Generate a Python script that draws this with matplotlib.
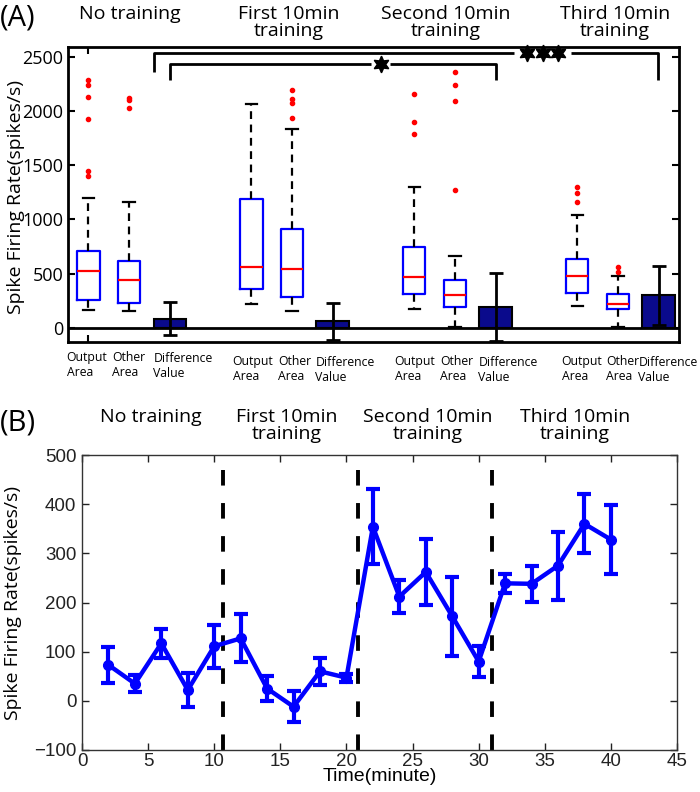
import matplotlib
matplotlib.use("Agg")
import matplotlib.pyplot as plt

W, H = 700, 792

# ---- panel A data (spikes/s) ----
box_pos_out = [1, 5, 9, 13]
box_pos_other = [2, 6, 10, 14]
bar_pos = [3, 7, 11, 15]

out_med = [523, 565, 468, 474]
out_q1 = [258, 357, 314, 326]
out_q3 = [710, 1187, 750, 637]
out_lo = [166, 219, 178, 200]
out_hi = [1195, 2066, 1298, 1045]
out_fliers = [[2288, 2242, 2128, 1925, 1451, 1402], [], [2161, 1894, 1787], [1298, 1240, 1160]]

oth_med = [440, 541, 304, 221]
oth_q1 = [233, 289, 197, 175]
oth_q3 = [618, 913, 443, 311]
oth_lo = [160, 157, 8, 8]
oth_hi = [1165, 1830, 661, 480]
oth_fliers = [[2124, 2097, 2032], [2190, 2113, 2075, 1935], [2364, 2239, 2091, 1276], [566, 517]]

diff_mean = [85, 62, 192, 300]
diff_err = [150, 172, 310, 275]

group_titles = ["No training", "First 10min\ntraining", "Second 10min\ntraining", "Third 10min\ntraining"]

# ---- panel B data ----
time_min = [2, 4, 6, 8, 10, 12, 14, 16, 18, 20, 22, 24, 26, 28, 30, 32, 34, 36, 38, 40]
rate = [73, 35, 117, 22, 111, 127, 25, -12, 60, 47, 354, 212, 262, 172, 80, 239, 238, 275, 360, 328]
rate_err = [36, 17, 30, 34, 44, 49, 26, 31, 28, 8, 76, 34, 67, 80, 32, 19, 36, 69, 60, 71]
phase_lines = [10.7, 20.9, 31.0]

OS = "Open Sans"
LS = "Liberation Sans"


def ftext(x, y, s, **kw):
    # place text by pixel position of the 700x792 canvas
    fig.text(x / W, 1 - y / H, s, **kw)


fig = plt.figure(figsize=(7, 7.92), dpi=100)

# ================= panel A =================
axA = fig.add_axes([68 / W, 1 - 342 / H, 611 / W, 295 / H])


def stats(med, q1, q3, lo, hi, fl):
    return [dict(med=m, q1=a, q3=b, whislo=l, whishi=h, fliers=f)
            for m, a, b, l, h, f in zip(med, q1, q3, lo, hi, fl)]


box_kw = dict(widths=0.55, showfliers=True,
              boxprops=dict(color="#0000ff", lw=1.6),
              medianprops=dict(color="#ff0000", lw=1.6),
              whiskerprops=dict(color="k", lw=1.6, ls=(0, (3.5, 2.5))),
              capprops=dict(color="k", lw=1.6),
              flierprops=dict(marker="o", markersize=3, markerfacecolor="#ff0000",
                              markeredgecolor="#ff0000", linestyle="none"))
axA.bxp(stats(out_med, out_q1, out_q3, out_lo, out_hi, out_fliers), positions=box_pos_out, **box_kw)
axA.bxp(stats(oth_med, oth_q1, oth_q3, oth_lo, oth_hi, oth_fliers), positions=box_pos_other, **box_kw)

axA.axhline(0, color="k", lw=2, zorder=1)
axA.bar(bar_pos, diff_mean, width=0.8, color="#0a0a8c", edgecolor="k", lw=1.5, zorder=2)
axA.errorbar(bar_pos, diff_mean, yerr=diff_err, fmt="none", ecolor="k",
             elinewidth=2, capsize=5, capthick=2, zorder=3)

# significance brackets
k = dict(color="k", lw=2, solid_capstyle="butt", clip_on=False)
axA.plot([2.62, 2.62, 11.45], [2362, 2537, 2537], **k)
axA.plot([12.85, 14.99, 14.99], [2537, 2537, 2288], **k)
axA.plot([3.0, 3.0, 7.95], [2288, 2433, 2433], **k)
axA.plot([8.4, 11.0, 11.0], [2433, 2433, 2288], **k)
axA.plot([11.78, 12.15, 12.52], [2537] * 3, ls="none", marker=(6, 1, 0), ms=12,
         color="k", clip_on=False)
axA.plot([8.18], [2433], ls="none", marker=(6, 1, 0), ms=12, color="k", clip_on=False)

axA.set_xlim(0.5, 15.5)
axA.set_ylim(-130, 2590)
axA.set_yticks([0, 500, 1000, 1500, 2000, 2500])
axA.set_xticks([1])
axA.set_xticklabels([""])
axA.tick_params(direction="in", length=5, width=1.5, top=True, right=True,
                labelsize=13)
for lab in axA.get_yticklabels():
    lab.set_family(OS)
for sp in axA.spines.values():
    sp.set_linewidth(2)
axA.set_ylabel("Spike Firing Rate(spikes/s)", family=OS, fontsize=14)
axA.yaxis.set_label_coords(-0.07, 0.49)

# category labels under panel A
lab_kw = dict(family=OS, fontsize=8.8, ha="center", va="center", multialignment="left")
out_lab_x = [87, 253, 415, 582]
oth_lab_x = [129, 295, 457, 623]
dif_lab_x = [183, 345, 508, 668]
lab_y = [365, 369, 369, 369]
for i in range(4):
    ftext(out_lab_x[i], lab_y[i], "Output\nArea", **lab_kw)
    ftext(oth_lab_x[i], lab_y[i], "Other\nArea", **lab_kw)
    ftext(dif_lab_x[i], lab_y[i] + 1, "Difference\nValue", **lab_kw)

titleA_x = [130, 289, 446, 615]
for x, t in zip(titleA_x, group_titles):
    ftext(x, 5, t, family=OS, fontsize=14, ha="center", va="top", linespacing=0.95)
ftext(0, 18, "(A)", family=OS, fontsize=21, ha="left", va="center")

# ================= panel B =================
axB = fig.add_axes([82 / W, 1 - 750 / H, 595 / W, 295 / H])
for x in phase_lines:
    axB.axvline(x, color="k", lw=2.8, ls=(0, (4, 4.5)), zorder=1)
axB.errorbar(time_min, rate, yerr=rate_err, color="#0000ff", lw=3.2, marker="o", ms=7,
             elinewidth=3, capsize=5, capthick=3, zorder=3)
axB.set_xlim(0, 45)
axB.set_ylim(-100, 500)
axB.set_xticks(range(0, 46, 5))
axB.set_yticks(range(-100, 501, 100))
axB.tick_params(direction="in", length=5, width=1, top=True, right=True,
                labelsize=13.5, colors="#222222", pad=2)
axB.tick_params(axis="y", pad=4)
for lab in axB.get_xticklabels() + axB.get_yticklabels():
    lab.set_family(LS)
for sp in axB.spines.values():
    sp.set_linewidth(1)
    sp.set_color("#333333")
axB.set_xlabel("Time(minute)", family=LS, fontsize=14, labelpad=-1)
axB.set_ylabel("Spike Firing Rate(spikes/s)", family=OS, fontsize=14)
axB.yaxis.set_label_coords(-0.1, 0.5)

titleB_x = [151, 287, 428, 575]
for x, t in zip(titleB_x, group_titles):
    ftext(x, 408, t, family=OS, fontsize=14, ha="center", va="top", linespacing=0.95)
ftext(0, 423, "(B)", family=OS, fontsize=21, ha="left", va="center")

fig.savefig("out.png", dpi=100)
